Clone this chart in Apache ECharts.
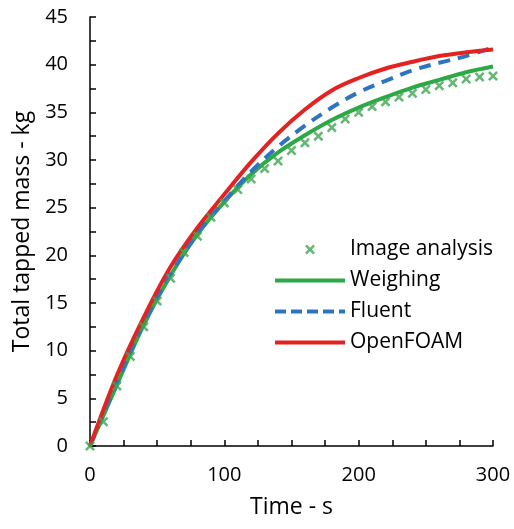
<!DOCTYPE html>
<html>
<head>
<meta charset="utf-8">
<script src="https://cdn.jsdelivr.net/npm/echarts@6/dist/echarts.min.js"></script>
<style>
  html, body { margin: 0; padding: 0; background: #fff; }
  #chart { width: 514px; height: 529px; }
</style>
</head>
<body>
<div id="chart"></div>
<script>
// 数据
const imageTime = [0, 10, 20, 30, 40, 50, 60, 70, 80, 90, 100, 110, 120, 130, 140, 150,
  160, 170, 180, 190, 200, 210, 220, 230, 240, 250, 260, 270, 280, 290, 300]
const imageMass = [0, 2.55, 6.3, 9.4, 12.5, 15.2, 17.6, 20.3, 22.0, 24.0, 25.5, 26.9, 28.0, 29.1, 29.9, 31.0,
  31.8, 32.5, 33.4, 34.3, 35.0, 35.6, 36.1, 36.6, 37.0, 37.4, 37.8, 38.1, 38.5, 38.7, 38.8]

const curveTime = [0, 20, 40, 60, 80, 100, 120, 140, 160, 180, 200, 220, 240, 260, 280, 300]
const weighing = [0, 6.4, 12.7, 17.9, 22.2, 25.6, 28.5, 30.8, 32.6, 34.2, 35.5, 36.6, 37.6, 38.4, 39.2, 39.8]
const fluent = [0, 6.7, 12.9, 18.0, 22.3, 25.7, 28.8, 31.4, 33.6, 35.5, 37.1, 38.3, 39.4, 40.2, 40.9, 41.8]
const openfoam = [0, 7.4, 13.5, 18.8, 22.9, 26.4, 29.8, 32.8, 35.3, 37.3, 38.6, 39.6, 40.3, 40.9, 41.3, 41.6]

const xTickLabels = [0, 100, 200, 300]
const yTickLabels = [0, 5, 10, 15, 20, 25, 30, 35, 40, 45]

const pair = (xs, ys) => xs.map((x, i) => [x, ys[i]])

const crossPath = 'path://M0,1.8L1.8,0L5,3.2L8.2,0L10,1.8L6.8,5L10,8.2L8.2,10L5,6.8L1.8,10L0,8.2L3.2,5Z'
// 图例里的线条
const solidIcon = 'path://M0,0H70V4H0Z'
const dashIcon = 'path://M0,0H11V4H0Z M16,0H27V4H16Z M32,0H43V4H32Z M48,0H59V4H48Z M64,0H70V4H64Z'
const font = 'Open Sans'

const chart = echarts.init(document.getElementById('chart'))
const option = {
  animation: false,
  backgroundColor: '#fff',
  textStyle: { fontFamily: font },
  grid: { left: 90, right: 21, top: 17, bottom: 83 },
  legend: {
    orient: 'vertical',
    left: 275,
    top: 239,
    padding: 0,
    itemWidth: 70,
    itemHeight: 10,
    itemGap: 10,
    textStyle: { fontSize: 21, color: '#000', fontFamily: font },
    data: [
      { name: 'Image analysis', icon: crossPath },
      { name: 'Weighing', icon: solidIcon },
      { name: 'Fluent', icon: dashIcon },
      { name: 'OpenFOAM', icon: solidIcon }
    ]
  },
  xAxis: {
    type: 'value',
    min: 0,
    max: 300,
    interval: 25,
    name: 'Time - s',
    nameLocation: 'middle',
    nameGap: 50,
    nameTextStyle: { fontSize: 23, color: '#000' },
    axisLine: { lineStyle: { color: '#000', width: 1.5 } },
    axisTick: { inside: true, length: 6, lineStyle: { color: '#000', width: 1.5 } },
    axisLabel: {
      fontSize: 20, color: '#000', margin: 19,
      formatter: v => xTickLabels.includes(v) ? String(v) : ''
    },
    splitLine: { show: false }
  },
  yAxis: {
    type: 'value',
    min: 0,
    max: 45,
    interval: 2.5,
    name: 'Total tapped mass - kg',
    nameLocation: 'middle',
    nameGap: 54,
    nameTextStyle: { fontSize: 23, color: '#000' },
    axisLine: { show: true, lineStyle: { color: '#000', width: 1.5 } },
    axisTick: { show: true, inside: true, length: 6, lineStyle: { color: '#000', width: 1.5 } },
    axisLabel: {
      fontSize: 20, color: '#000', margin: 22,
      formatter: v => yTickLabels.includes(v) ? String(v) : ''
    },
    splitLine: { show: false }
  },
  series: [
    {
      name: 'Image analysis',
      type: 'scatter',
      symbol: crossPath,
      symbolSize: 10,
      itemStyle: { color: '#3ea553' },
      data: pair(imageTime, imageMass),
      z: 5
    },
    {
      name: 'Weighing',
      type: 'line',
      smooth: 0.35,
      showSymbol: false,
      lineStyle: { color: '#2ca846', width: 4 },
      itemStyle: { color: '#2ca846' },
      data: pair(curveTime, weighing)
    },
    {
      name: 'Fluent',
      type: 'line',
      smooth: 0.35,
      showSymbol: false,
      lineStyle: { color: '#2e75c0', width: 4, type: [12, 8] },
      itemStyle: { color: '#2e75c0' },
      data: pair(curveTime, fluent)
    },
    {
      name: 'OpenFOAM',
      type: 'line',
      smooth: 0.35,
      showSymbol: false,
      lineStyle: { color: '#e32322', width: 4 },
      itemStyle: { color: '#e32322' },
      data: pair(curveTime, openfoam)
    }
  ]
}
option && chart.setOption(option)
</script>
</body>
</html>
